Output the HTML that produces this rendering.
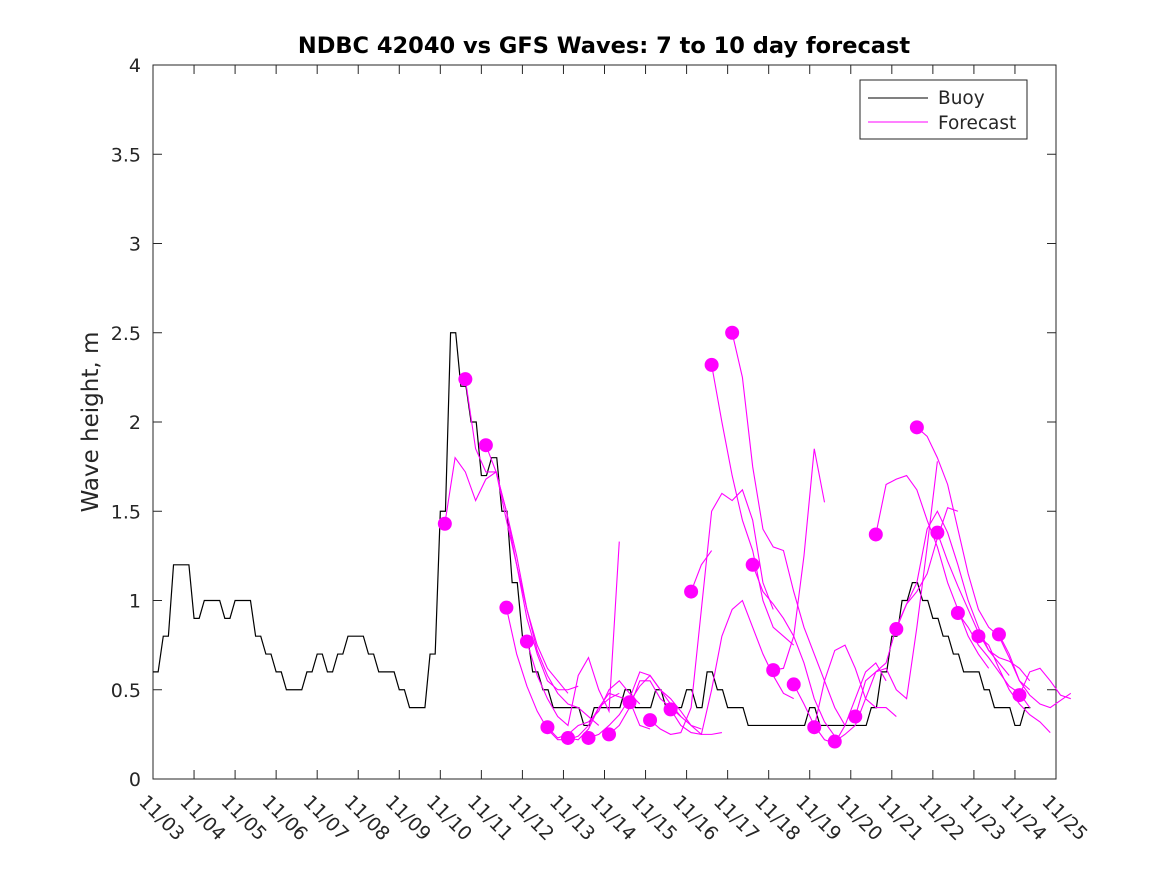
<!DOCTYPE html>
<html><head><meta charset="utf-8"><style>
body{margin:0;background:#fff;}
svg text{font-family:"DejaVu Sans","Liberation Sans",sans-serif;fill:#262626;}
</style></head><body>
<svg id="chart" width="1167" height="875" xmlns="http://www.w3.org/2000/svg">
<rect width="1167" height="875" fill="#fff"/>
<text x="604" y="53" text-anchor="middle" font-size="22.5" font-weight="bold" style="fill:#000">NDBC 42040 vs GFS Waves: 7 to 10 day forecast</text>
<text transform="translate(98,422) rotate(-90)" text-anchor="middle" font-size="23">Wave height, m</text>
<g id="axes"></g>
<g id="series"></g>
<g>
<rect x="860" y="80" width="167" height="59" fill="#fff" stroke="#262626" stroke-width="1"/>
<line x1="868" y1="98" x2="928" y2="98" stroke="#000"/>
<text x="938" y="104" font-size="18.5">Buoy</text>
<line x1="868" y1="122" x2="928" y2="122" stroke="#ff00ff"/>
<text x="938" y="129" font-size="18.5">Forecast</text>
</g>
</svg>
<script>
const xTickLabels=["11/03","11/04","11/05","11/06","11/07","11/08","11/09","11/10","11/11","11/12","11/13","11/14","11/15","11/16","11/17","11/18","11/19","11/20","11/21","11/22","11/23","11/24","11/25"];
const yTicks=[0,0.5,1,1.5,2,2.5,3,3.5,4];
const yTickLabels=["0","0.5","1","1.5","2","2.5","3","3.5","4"];
const buoyStep=0.25;
const buoy=[0.6,0.8,1.2,1.2, 0.9,1.0,1.0,0.9, 1.0,1.0,0.8,0.7, 0.6,0.5,0.5,0.6, 0.7,0.6,0.7,0.8, 0.8,0.7,0.6,0.6, 0.5,0.4,0.4,0.7, 1.5,2.5,2.2,2.0, 1.7,1.8,1.5,1.1, 0.8,0.6,0.5,0.4, 0.4,0.4,0.3,0.4, 0.4,0.4,0.5,0.4, 0.4,0.5,0.4,0.4, 0.5,0.4,0.6,0.5, 0.4,0.4,0.3,0.3, 0.3,0.3,0.3,0.3, 0.4,0.3,0.3,0.3, 0.3,0.3,0.4,0.6, 0.8,1.0,1.1,1.0, 0.9,0.8,0.7,0.6, 0.6,0.5,0.4,0.4, 0.3,0.4];
const forecastStart0=7.11, forecastSpacing=0.5, forecastStep=0.25;
const forecasts=[
[1.43,1.80,1.72,1.56,1.68,1.72,1.45,1.20,0.95,0.75,0.62,0.55,0.48],
[2.24,1.85,1.72,1.72,1.50,1.20,0.90,0.70,0.55,0.50,0.50,0.52],
[1.87,1.72,1.50,1.25,0.95,0.72,0.58,0.48,0.42,0.40,0.35,0.30],
[0.96,0.70,0.52,0.38,0.28,0.22,0.22,0.24,0.30,0.40,0.45,0.48],
[0.77,0.58,0.45,0.35,0.30,0.58,0.68,0.50,0.38,1.33],
[0.29,0.23,0.25,0.30,0.32,0.38,0.50,0.55,0.48,0.42],
[0.23,0.22,0.28,0.40,0.48,0.46,0.44,0.30,0.28],
[0.23,0.25,0.30,0.36,0.45,0.60,0.58,0.50,0.42,0.35],
[0.25,0.30,0.40,0.55,0.55,0.45,0.40,0.35,0.30,0.28],
[0.43,0.52,0.58,0.50,0.45,0.38,0.30,0.25,0.25,0.26],
[0.33,0.28,0.25,0.26,0.40,0.95,1.50,1.60,1.56,1.62,1.45,1.10,0.95],
[0.39,0.30,0.26,0.25,0.50,0.80,0.95,1.00,0.85,0.70,0.58,0.48,0.45],
[1.05,1.20,1.28],
[2.32,2.00,1.70,1.45,1.28,1.00,0.85,0.80,0.75],
[2.50,2.25,1.75,1.40,1.30,1.28,1.05,0.85,0.70,0.55,0.40,0.30],
[1.20,1.05,0.98,0.90,0.80,0.65,0.45,0.32,0.24],
[0.61,0.62,0.80,1.25,1.85,1.55],
[0.53,0.42,0.30,0.22,0.20,0.30,0.45,0.60,0.65,0.55],
[0.29,0.55,0.72,0.75,0.62,0.45,0.40,0.40,0.35],
[0.21,0.25,0.30,0.45,0.60,0.62,0.50,0.45,0.85,1.30,1.78],
[0.35,0.55,0.60,0.65,0.85,0.98,1.05,1.15,1.35,1.52,1.50],
[1.37,1.65,1.68,1.70,1.62,1.45,1.30,1.10,0.95,0.80,0.70,0.62],
[0.84,0.98,1.10,1.40,1.50,1.38,1.20,1.00,0.85,0.72,0.65,0.58],
[1.97,1.92,1.80,1.65,1.40,1.15,0.95,0.85,0.80,0.68,0.55,0.50],
[1.38,1.22,1.08,0.95,0.82,0.72,0.68,0.66,0.62,0.55],
[0.93,0.85,0.75,0.68,0.60,0.52,0.48,0.40],
[0.80,0.75,0.62,0.50,0.42,0.36,0.32,0.26],
[0.81,0.70,0.55,0.47,0.42,0.40,0.44,0.48],
[0.47,0.60,0.62,0.55,0.47,0.45]
];
const NS="http://www.w3.org/2000/svg";
const L=153,R=1056,T=65,B=779,XMAX=22,YMAX=4;
const xs=d=>L+(R-L)*d/XMAX;
const ys=v=>B-(B-T)*v/YMAX;
function mk(tag,attrs,parent){const e=document.createElementNS(NS,tag);for(const k in attrs)e.setAttribute(k,attrs[k]);parent.appendChild(e);return e;}
const axes=document.getElementById('axes'),series=document.getElementById('series');
const frame=mk('rect',{x:L,y:T,width:R-L,height:B-T,fill:'none',stroke:'#262626','stroke-width':1},axes);


xTickLabels.forEach((lab,i)=>{const x=xs(i);
 mk('line',{x1:x,y1:B,x2:x,y2:B-9,stroke:'#262626'},axes);
 mk('line',{x1:x,y1:T,x2:x,y2:T+9,stroke:'#262626'},axes);
 const t=mk('text',{x:0,y:0,'font-size':19,transform:`translate(${x-15},${B+24}) rotate(45)`},axes);
 t.textContent=lab;
 
 
});
yTicks.forEach((v,i)=>{const y=ys(v);
 mk('line',{x1:L,y1:y,x2:L+9,y2:y,stroke:'#262626'},axes);
 mk('line',{x1:R,y1:y,x2:R-9,y2:y,stroke:'#262626'},axes);
 const t=mk('text',{x:L-12,y:y+7,'font-size':19,'text-anchor':'end'},axes);
 t.textContent=yTickLabels[i];
 
 
});
let pts=[];buoy.forEach((v,i)=>{const d=i*buoyStep;pts.push(xs(d)+','+ys(v));pts.push(xs(d+buoyStep*0.5)+','+ys(v));});
const bl=mk('polyline',{points:pts.join(' '),fill:'none',stroke:'#000','stroke-width':1.2},series);


forecasts.forEach((f,j)=>{const d0=forecastStart0+j*forecastSpacing;
 const p=f.map((v,k)=>xs(d0+k*forecastStep)+','+ys(v)).join(' ');
 const pl=mk('polyline',{points:p,fill:'none',stroke:'#ff00ff','stroke-width':1.1},series);
 
 
});
forecasts.forEach((f,j)=>{const d0=forecastStart0+j*forecastSpacing;
 const c=mk('circle',{cx:xs(d0),cy:ys(f[0]),r:7,fill:'#ff00ff'},series);
 
 
});
</script>
</body></html>
